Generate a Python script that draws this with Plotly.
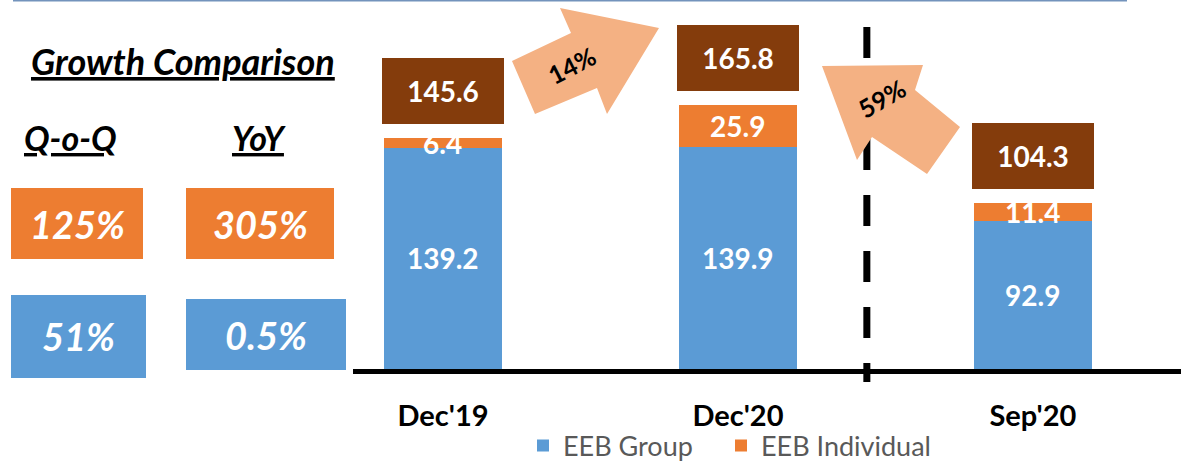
import plotly.graph_objects as go

# ---------------- data ----------------
categories = ["Dec'19", "Dec'20", "Sep'20"]
eeb_group = [139.2, 139.9, 92.9]
eeb_individual = [6.4, 25.9, 11.4]
totals = [145.6, 165.8, 104.3]
series_names = ["EEB Group", "EEB Individual"]

panel_title = "Growth Comparison"
column_heads = ["Q-o-Q", "YoY"]
qoq_growth = ["125%", "51%"]   # EEB Individual, EEB Group
yoy_growth = ["305%", "0.5%"]  # EEB Individual, EEB Group
change_labels = ["14%", "59%"]

# ---------------- style ----------------
W, H = 1181, 465
BLUE = "#5B9BD5"
ORANGE = "#ED7D31"
BROWN = "#843C0C"
PEACH = "#F4B183"
FONT = "Lato"


def px(x):
    return x / W


def py(y):
    return 1 - y / H


base_px = 369          # pixel row of the value axis zero
px_per_unit = 1.59
x_pos = list(range(len(categories)))

fig = go.Figure()
fig.add_trace(go.Bar(x=x_pos, y=eeb_group, name=series_names[0], legend="legend",
                     marker=dict(color=BLUE, line=dict(width=0)), width=0.4))
fig.add_trace(go.Bar(x=x_pos, y=eeb_individual, name=series_names[1], legend="legend2",
                     marker=dict(color=ORANGE, line=dict(width=0)), width=0.4))

annotations = []
shapes = []


def ann(**kw):
    d = dict(showarrow=False, xanchor="center", yanchor="middle")
    d.update(kw)
    annotations.append(d)


# segment labels
for i in x_pos:
    ann(x=i, y=eeb_group[i] / 2, xref="x", yref="y", text=f"{eeb_group[i]:.1f}",
        font=dict(family=FONT, size=28, color="white", weight="bold"))
    ann(x=i, y=eeb_group[i] + eeb_individual[i] / 2, xref="x", yref="y",
        text=f"{eeb_individual[i]:.1f}",
        font=dict(family=FONT, size=28, color="white", weight="bold"))
    # total boxes
    ann(x=i, y=totals[i], xref="x", yref="y", yanchor="bottom", yshift=14,
        text=f"{totals[i]:.1f}", width=122, height=66, bgcolor=BROWN, borderpad=0,
        borderwidth=0, font=dict(family=FONT, size=28, color="white", weight="bold"))

# left panel
def head_font(size):
    return dict(family=FONT, size=size, color="black", weight="bold", style="italic",
                lineposition="under")


ann(x=px(182.5), y=py(61), xref="paper", yref="paper", text=panel_title, font=head_font(36))
ann(x=px(70), y=py(137), xref="paper", yref="paper", text=column_heads[0], font=head_font(34))
ann(x=px(259), y=py(137), xref="paper", yref="paper", text=column_heads[1], font=head_font(34))

boxes = [
    ((11, 188, 143, 259), ORANGE, qoq_growth[0], (77, 224)),
    ((186, 188, 334, 259), ORANGE, yoy_growth[0], (260, 224)),
    ((11, 295, 146, 378), BLUE, qoq_growth[1], (78, 336)),
    ((186, 299, 346, 370), BLUE, yoy_growth[1], (266, 335)),
]
for (x0, y0, x1, y1), col, txt, (cx, cy) in boxes:
    shapes.append(dict(type="rect", xref="paper", yref="paper", x0=px(x0), x1=px(x1),
                       y0=py(y1), y1=py(y0), fillcolor=col, line=dict(width=0), layer="below"))
    ann(x=px(cx), y=py(cy), xref="paper", yref="paper", text=txt,
        font=dict(family=FONT, size=38, color="white", weight="bold", style="italic"))

# top rule
shapes.append(dict(type="line", xref="paper", yref="paper", x0=px(13), x1=px(1127),
                   y0=py(0.8), y1=py(0.8), line=dict(color="#7393BC", width=1.5)))

# dashed separator
shapes.append(dict(type="line", xref="x", yref="paper", x0=1.437, x1=1.437,
                   y0=py(27), y1=py(382), line=dict(color="black", width=7, dash="31px,25px")))


def poly(points):
    path = "M " + " L ".join(f"{px(x):.5f},{py(y):.5f}" for x, y in points) + " Z"
    return dict(type="path", xref="paper", yref="paper", path=path,
                fillcolor=PEACH, line=dict(width=0), layer="above")


shapes.append(poly([(512, 61), (571, 33), (560, 8), (659, 28), (607, 114), (597, 88), (535, 114)]))
shapes.append(poly([(822, 66), (923, 65), (915, 90), (960, 127), (927, 174), (872, 137), (857, 160)]))

arrow_font = dict(family=FONT, size=25, color="black", weight="bold")
ann(x=px(572), y=py(65), xref="paper", yref="paper", text=change_labels[0],
    textangle=-27, font=arrow_font)
ann(x=px(882), y=py(98), xref="paper", yref="paper", text=change_labels[1],
    textangle=-30, font=arrow_font)

legend_style = dict(orientation="h", xanchor="left", yanchor="middle", y=py(446),
                    font=dict(family=FONT, size=27, color="#595959"),
                    bgcolor="rgba(0,0,0,0)", itemwidth=30)

fig.update_layout(
    width=W, height=H,
    margin=dict(l=0, r=0, t=0, b=0, autoexpand=False),
    paper_bgcolor="white", plot_bgcolor="white",
    barmode="stack",
    bargap=0,
    showlegend=True,
    legend=dict(x=px(523), **legend_style),
    legend2=dict(x=px(721), **legend_style),
    xaxis=dict(domain=[px(353), 1], range=[-0.305, 2.502], tickvals=x_pos, ticktext=categories,
               showline=True, linewidth=5, linecolor="black", showgrid=False, zeroline=False,
               ticks="", ticklabelstandoff=17, automargin=False,
               tickfont=dict(family=FONT, size=29, color="black", weight="bold"),
               fixedrange=True),
    yaxis=dict(domain=[py(base_px), 1], range=[0, base_px / px_per_unit], visible=False,
               fixedrange=True, automargin=False),
    annotations=annotations,
    shapes=shapes,
)

fig.write_html(
    "out.html",
    config={"displayModeBar": False},
    post_script="document.body.style.margin='0';document.body.style.overflow='hidden';",
)
